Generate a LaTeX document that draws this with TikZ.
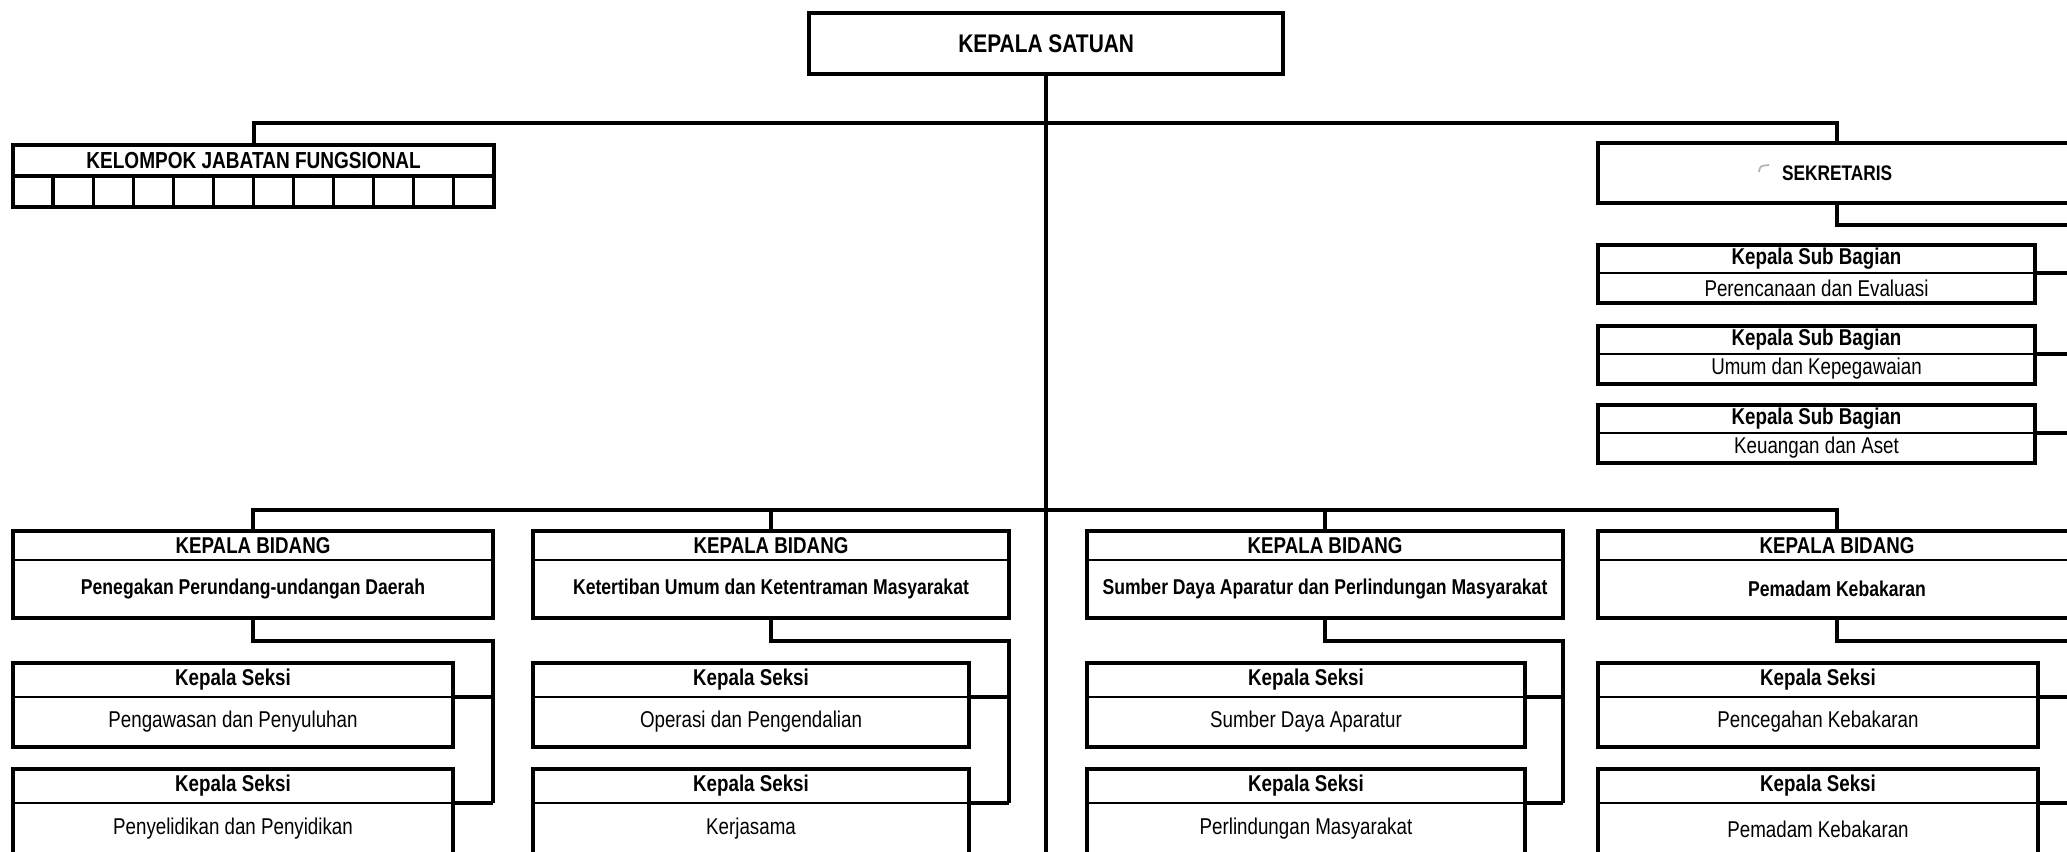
\documentclass[tikz,border=0pt]{standalone}
\usepackage{fontspec}
\setmainfont{Liberation Sans}[FakeStretch=0.82]
\newcommand\fsz[1]{\fontsize{#1}{#1}\selectfont}
\newcommand\bidfont{\bfseries\fsz{6.1}}

% two-row unit box: name, left x, top y, width, header height, body height, header, body
\newcommand\dualbox[8]{%
  \node[row, hdr, minimum width=#4*0.01cm, minimum height=#5*0.01cm] (#1-h) at (#2,#3) {#7};
  \node[row, bdy, minimum width=#4*0.01cm, minimum height=#6*0.01cm] (#1-b) at (#1-h.south west) {#8};
  \draw[frame] (#1-h.north west) rectangle (#1-b.south east);
}

\begin{document}
\begin{tikzpicture}[x=0.01cm, y=-0.01cm,
  row/.style={draw, line width=0.5pt, inner sep=0pt, outer sep=0pt, anchor=north west, align=center},
  hdr/.style={font=\bfseries\fsz{6.5}},
  bdy/.style={font=\fsz{6.5}},
  frame/.style={line width=1.2pt},
  link/.style={line width=1.2pt},
  single/.style={draw, line width=1.2pt, inner sep=0pt, outer sep=0pt, anchor=north west, align=center},
  cell/.style={draw, line width=0.9pt, inner sep=0pt, outer sep=0pt, anchor=north west},
]
\useasboundingbox (0,0) rectangle (2067,852);
\clip (0,0) rectangle (2067,852);

% head of unit
\node[single, minimum width=4.74cm, minimum height=0.61cm, font=\bfseries\fsz{7.25}] (ks) at (809,13) {KEPALA SATUAN};

% functional group with its empty cells
\node[row, font=\bfseries\fsz{6.6}, minimum width=4.81cm, minimum height=0.31cm] (kjf) at (13,145) {KELOMPOK JABATAN FUNGSIONAL};
\foreach \i in {1,...,12}
  \node[cell, minimum width=0.4008cm, minimum height=0.31cm] (kjf-\i) at (13+40.08*\i-40.08,176) {};
\draw[frame] (kjf.north west) rectangle (kjf-12.south east);

% secretary and sub-sections
\node[single, minimum width=4.78cm, minimum height=0.60cm, font=\bfseries\fsz{6}] (sek) at (1598,143) {SEKRETARIS};
\draw[gray!60, line width=0.5pt] (1759,172) .. controls (1760,166) .. (1769,165);

\dualbox{sb1}{1598}{245}{437}{28}{30}{Kepala Sub Bagian}{Perencanaan dan Evaluasi}
\dualbox{sb2}{1598}{326}{437}{28}{30}{Kepala Sub Bagian}{Umum dan Kepegawaian}
\dualbox{sb3}{1598}{405}{437}{28}{30}{Kepala Sub Bagian}{Keuangan dan Aset}

% divisions
\dualbox{b1}{13}{531}{480}{29}{58}{KEPALA BIDANG}{\bidfont Penegakan Perundang-undangan Daerah}
\dualbox{b2}{533}{531}{476}{29}{58}{KEPALA BIDANG}{\bidfont Ketertiban Umum dan Ketentraman Masyarakat}
\dualbox{b3}{1087}{531}{476}{29}{58}{KEPALA BIDANG}{\bidfont Sumber Daya Aparatur dan Perlindungan Masyarakat}
\dualbox{b4}{1598}{531}{478}{29}{58}{KEPALA BIDANG}{\bidfont Pemadam Kebakaran}

% sections
\dualbox{s11}{13}{663}{440}{34}{50}{Kepala Seksi}{Pengawasan dan Penyuluhan}
\dualbox{s12}{13}{769}{440}{34}{52}{Kepala Seksi}{Penyelidikan dan Penyidikan}
\dualbox{s21}{533}{663}{436}{34}{50}{Kepala Seksi}{Operasi dan Pengendalian}
\dualbox{s22}{533}{769}{436}{34}{52}{Kepala Seksi}{Kerjasama}
\dualbox{s31}{1087}{663}{438}{34}{50}{Kepala Seksi}{Sumber Daya Aparatur}
\dualbox{s32}{1087}{769}{438}{34}{52}{Kepala Seksi}{Perlindungan Masyarakat}
\dualbox{s41}{1598}{663}{440}{34}{50}{Kepala Seksi}{Pencegahan Kebakaran}
\dualbox{s42}{1598}{769}{440}{34}{52}{Kepala Seksi}{Pemadam Kebakaran}

% connectors
\coordinate (busA) at (0,123);
\coordinate (busB) at (0,510);
\coordinate (floor) at (0,860);
\draw[link] (ks.south) -- (ks.south |- floor);
\draw[link] (kjf.north) -- (kjf.north |- busA) -- (sek.north |- busA) -- (sek.north);
\draw[link] (b1-h.north) -- (b1-h.north |- busB) -- (b4-h.north |- busB) -- (b4-h.north);
\draw[link] (b2-h.north) -- (b2-h.north |- busB);
\draw[link] (b3-h.north) -- (b3-h.north |- busB);

\draw[link] (sek.south) -- ++(0,22) -| (sek.east |- sb3-h.south);
\foreach \s in {sb1,sb2,sb3}
  \draw[link] (\s-h.south east) -- (sek.east |- \s-h.south east);

\foreach \b in {1,2,3,4} {
  \draw[link] (b\b-b.south) -- ++(0,23) -| (b\b-b.east |- s\b2-h.south);
  \draw[link] (s\b1-h.south east) -- (b\b-b.east |- s\b1-h.south east);
  \draw[link] (s\b2-h.south east) -- (b\b-b.east |- s\b2-h.south east);
}
\end{tikzpicture}
\end{document}
